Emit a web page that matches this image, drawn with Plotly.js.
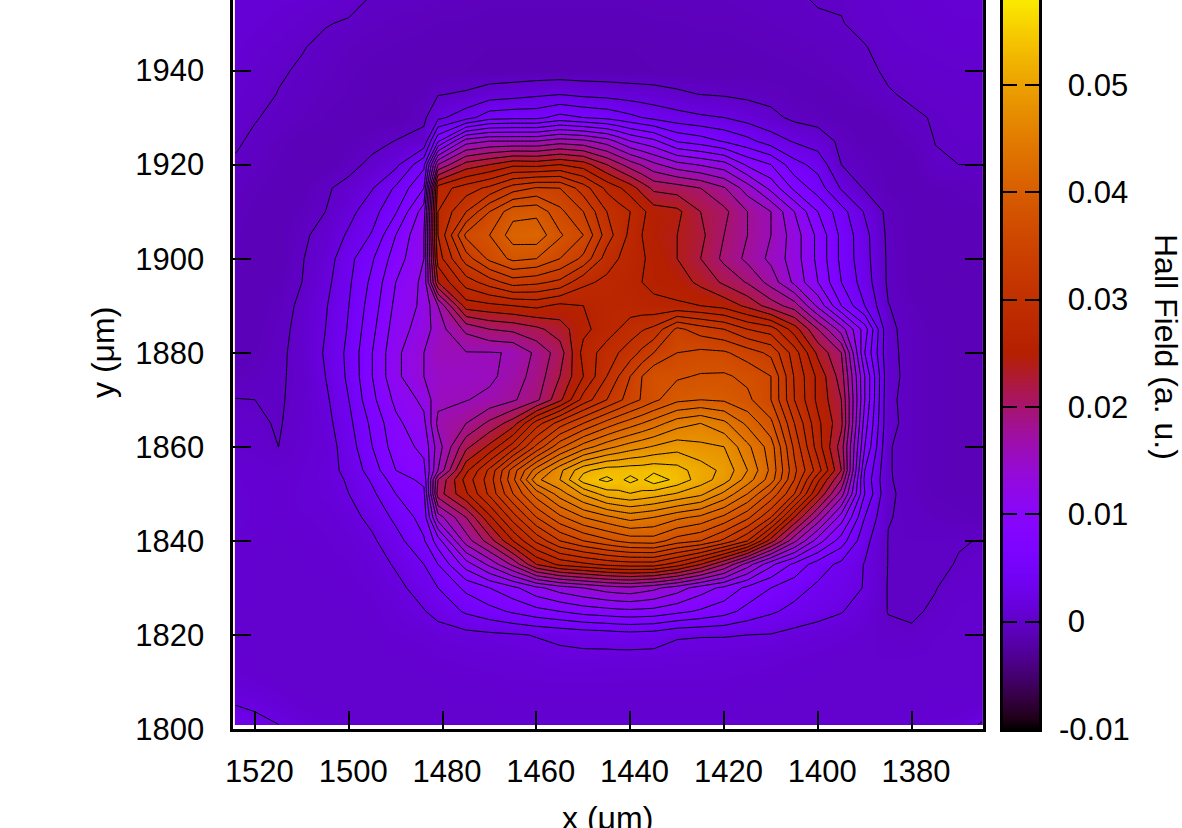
<!DOCTYPE html>
<html>
<head>
<meta charset="utf-8">
<script src="https://cdn.plot.ly/plotly-3.0.1.min.js"></script>
<style>html,body{margin:0;padding:0;background:#fff;overflow:hidden}#chart{width:1182px;height:828px}</style>
</head>
<body>
<div id="chart"></div>
<script>
// measurement positions (µm)
var xValues = [1524,1520,1515,1510,1505,1500,1495,1490,1484,1481,1475,1470,1465,1460,1455,1450,1445,1442.5,1440,1437.5,1435,1430,1425,1420,1415,1410,1405,1400,1395,1390,1385,1380,1375,1370,1365];
var yValues = [1801,1805,1810,1815,1820,1825,1830,1835,1840,1845,1850,1853,1855,1860,1865,1870,1875,1880,1885,1890,1895,1900,1905,1910,1915,1920,1925,1930,1935,1940,1945,1950,1955];
// Hall field, in units of 0.001 (a. u.), one list per y position
var z1801 = [3,2.6,2,1.2,.7,.6,.5,.5,.5,.5,.5,.5,.6,.6,.6,.6,.6,.6,.6,.6,.6,.6,.6,.6,.6,.6,.6,.6,.6,.6,.6,.7,.8,.9,2.2];
var z1805 = [2,1.7,1.1,.7,.6,.5,.5,.5,.5,.6,.6,.6,.7,.7,.7,.7,.7,.7,.7,.7,.7,.7,.7,.7,.6,.6,.6,.6,.6,.6,.6,.6,.7,.7,.7];
var z1810 = [1,.8,.6,.5,.5,.5,.5,.5,.6,.6,.7,.7,.8,.8,.8,.8,.8,.8,.8,.8,.8,.8,.8,.8,.7,.7,.6,.6,.5,.5,.5,.5,.6,.6,.6];
var z1815 = [.7,.6,.5,.5,.5,.5,.5,.6,.7,.8,.9,1,1.1,1.2,1.5,1.5,1.4,1.35,1.3,1.3,1.3,1.2,1.2,1.1,1,.9,.8,.7,.6,.5,.5,.5,.6,.6,.6];
var z1820 = [.6,.6,.6,.6,.6,.6,.6,.8,.9,1.2,1.4,1.6,1.8,2.1,2.4,2.7,2.9,3.1,3.2,3.1,3,2.2,2.1,2.1,2,1.9,1.4,1.1,.9,.7,.3,.1,.5,.6,.6];
var z1825 = [.6,.6,.6,.6,.6,.6,.7,1.1,1.9,2.6,4.3,5.3,6.3,7.3,8,8.8,9.2,9.4,9.5,9.4,9.3,8.5,7.7,6.8,5.3,4.3,3.4,2.7,2.1,1.1,-.05,-.1,.1,.6,.6];
var z1830 = [.7,.6,.6,.6,.6,.7,.9,1.5,2.8,4,6.5,8,9.5,11.5,13,14,15,15.3,15.5,15,14.5,13,11,9.5,7.5,6,4.8,3.6,2.8,1.9,-.1,-.1,-.03,.3,.5];
var z1835 = [.7,.6,.6,.6,.7,.8,1.2,2.2,4,6,11,14.5,18.5,24,26.5,27.5,28.5,28.8,29,29,29,27,24,20,15,10.5,7.5,5,3.5,1.9,-.05,-.1,-.1,.03,.3];
var z1840 = [.8,.7,.6,.7,.8,1,1.7,3.2,5.8,9,17,21,26,30.5,34,36,37.5,38.2,38.8,38.9,39,37,36,33.5,30,23,16.5,11,7,2.6,-.05,-.1,-.1,-.03,.02];
var z1845 = [.9,.8,.7,.8,.9,1.4,2.5,4.5,6.8,15,20,25.5,31,36,39.5,42,43.5,44.2,44.8,44.4,44,42.5,41.5,39.5,36.5,32,24,17.5,11,4,.05,-.2,-.5,-.7,-.8];
var z1850 = [.9,.8,.7,.9,1.2,2,3.6,6,7.5,21,25.7,30.5,36,41,45,48.3,51,51.5,51.9,51.5,51,49.8,48.5,45.5,42,37.5,32,24,17,6,.2,-.4,-.8,-.9,-1];
var z1853 = [.85,.75,.65,.85,1.25,2.2,4.3,7,8.5,20,26.8,31,37.5,45.5,48,53,54.5,53.5,54.6,53.7,55.2,53.4,51,49,45,41,34,26.5,20,5.5,.1,-.4,-.9,-1,-1];
var z1855 = [.8,.7,.6,.8,1.3,2.5,5,8,9.5,16,25.5,30.5,37,43,47.5,51.5,53,53,53.2,53.2,53.5,52.8,51,49.5,46,41.5,34.5,29,22,6,.1,-.5,-.9,-1,-1];
var z1860 = [.5,.4,0,.7,1,3,6,9,10.5,15,21.5,24.5,29,34.5,39.5,43,45.3,46.2,47,47.6,48.2,49.2,48.5,48,44.5,41,33.5,27,21,8,.1,-.5,-.9,-1,-1];
var z1865 = [.3,.2,-.1,.5,1.3,3.5,6.5,9.5,11.5,16.5,18,20.5,23,29,33,36,38.8,40,41,42,43,45.1,46,44.5,41.5,38.5,32,26.5,22.5,9,.4,-.5,-.9,-1,-1];
var z1870 = [.05,0,-.15,.4,1.6,4,7.5,10.5,12.5,15.5,15.9,16.6,17.7,19.5,23.5,28.8,32,33.5,35,36.2,37.5,39.5,40,39.7,38.5,36,30,25.5,22,10,.3,-.5,-.9,-1,-1];
var z1875 = [-.8,-.5,-.1,.2,2,4.4,8,11.5,14,15,15.3,15.5,17,18.8,22,26,30,32,34,36,37.7,37.7,38.2,38.3,37.5,36,29.8,25.5,21,10,.5,-.5,-.9,-1,-1];
var z1880 = [-1,-.8,-.3,.5,2.2,4.5,8,11.5,14,15.9,15.9,15.9,16.1,18.5,21,26.7,29,30,31,32.5,34,36,36.5,36.3,35,33.5,29,23.5,20,8,.4,-.5,-.9,-1,-1];
var z1885 = [-1,-.9,-.4,.4,2,4.2,7.5,11,13,15,18.5,20,20.5,21.5,23,25.5,27,28,29,29.8,30.5,34.5,33,32,30,29,25,20,15,9,.3,-.5,-.9,-1,-1];
var z1890 = [-1,-1,-.6,.3,1.8,4,7,10.5,12.5,16,25,25.5,26,26.5,25.5,26,27,27,27,26.8,26.5,26.3,26,25.3,23.5,21,19,13.5,8,4,.05,-.7,-1,-1.1,-1];
var z1895 = [-.9,-1.1,-.9,0,1.4,3.7,6.5,10,12.5,24,29,31,33,32.5,31.5,28.5,27.5,27,26.5,26,25.5,25,23.5,21.6,19.8,17.2,13.5,10,6,3,-.3,-.9,-1.1,-1.1,-1];
var z1900 = [-.8,-1.1,-1.1,-.1,1,3.4,5.8,9,12,27,33,36.5,38.5,38,36,33.5,29,28,27,26.2,25.5,24,22,19.5,17.5,15.5,13,9.5,5.5,2.7,-.3,-.9,-1,-1.1,-1];
var z1905 = [-.7,-1,-1.1,-.3,.6,2.3,4.2,8,12,28,36.5,38,41,41.3,38.3,36,31,29.2,27.5,26,24.8,24,22.5,20,18,16,13,9.5,5.5,2.6,-.4,-.9,-1,-1,-.9];
var z1910 = [-.6,-.9,-1.1,-.7,0,1.4,3.2,5.8,11,28,32,36,39.3,39.5,36.5,34,30,29,28,26.5,25,24.5,22,20.5,18,16,12,8,4.8,1.8,-.5,-.9,-1,-.9,-.8];
var z1915 = [-.4,-.7,-1,-1,-.2,.5,1.9,4.3,8,27,29,30.5,33,34.2,34,31,27.5,26.3,25,23.2,21.5,21,20,18.2,15,11.4,7.5,5,1.8,-.2,-.8,-1,-.9,-.7,-.6];
var z1920 = [-.1,-.4,-.8,-1.1,-1.1,-.5,.4,1.5,5.5,18,22.8,24,25.5,25.3,26,25,22,20.5,19,17.8,16.5,14.7,13.8,12.8,9.6,8,4.7,3.3,0,-.5,-.9,-1,-.1,0,0];
var z1925 = [.1,-.15,-.6,-1,-1.1,-.9,-.5,.05,.5,7.7,15,16,16,16,17,16.5,15,13.5,12,11.2,10.5,7.8,7,5.8,4.6,3,1.8,1,-.4,-.9,-1,-.6,.02,.1,.1];
var z1930 = [.4,.05,-.2,-.5,-.8,-1,-1.1,-1.2,-.3,1.5,3.2,5.2,5.5,5.5,6.7,6,5.5,5,4.5,4,3.5,2.8,2.3,2,1.2,.5,-.4,-.7,-.9,-1,-.7,-.1,.05,.2,.2];
var z1935 = [.6,.3,-.03,-.3,-.6,-.8,-1,-1.1,-.8,-.1,.2,.9,1.2,1.6,1.9,1.5,1.3,1.15,1,.85,.7,.3,-.05,-.2,-.4,-.6,-.8,-.9,-.8,-.5,-.05,.1,.2,.3,.3];
var z1940 = [.8,.5,.1,-.1,-.4,-.7,-.9,-1,-1.1,-1.1,-1.1,-1.2,-1.2,-1.2,-1.2,-1.2,-1.2,-1.2,-1.2,-1.15,-1.1,-1.1,-1.1,-1.1,-1,-.9,-.8,-.7,-.5,-.15,.1,.3,.4,.5,.5];
var z1945 = [.9,.7,.4,.05,-.2,-.5,-.7,-.8,-.9,-1,-1,-1.1,-1.1,-1.1,-1.1,-1.1,-1.1,-1.1,-1.1,-1.05,-1,-1,-.9,-.9,-.8,-.7,-.6,-.5,-.3,-.05,.4,.5,.6,.7,.7];
var z1950 = [1,.9,.7,.4,.05,-.1,-.4,-.6,-.7,-.8,-.8,-.9,-.9,-.9,-.9,-.9,-.9,-.9,-.9,-.85,-.8,-.8,-.7,-.7,-.6,-.5,-.4,-.2,-.05,.3,.5,.6,.7,.8,.8];
var z1955 = [1,1,.9,.8,.6,.3,-.1,-.3,-.4,-.5,-.6,-.7,-.7,-.7,-.7,-.7,-.7,-.7,-.7,-.65,-.6,-.6,-.5,-.5,-.4,-.3,-.2,.1,.1,.4,.6,.7,.8,.9,.9];
var fieldRows = [z1801,z1805,z1810,z1815,z1820,z1825,z1830,z1835,z1840,z1845,z1850,z1853,z1855,z1860,z1865,z1870,z1875,z1880,z1885,z1890,z1895,z1900,z1905,z1910,z1915,z1920,z1925,z1930,z1935,z1940,z1945,z1950,z1955];

var xTicks = [1520,1500,1480,1460,1440,1420,1400,1380];
var xLabels = ['\u00a01520','\u00a01500','\u00a01480','\u00a01460','\u00a01440','\u00a01420','\u00a01400','\u00a01380'];
var yTicks = [1800,1820,1840,1860,1880,1900,1920,1940];
var barTicks = [-0.01,0,0.01,0.02,0.03,0.04,0.05];
var barLabels = ['','0','0.01','0.02','0.03','0.04','0.05'];
var barEnds = [-0.01,0.0585];
var contourLevels = {start:0,end:54,size:2};

// gnuplot default pm3d palette (rgbformulae 7,5,15) over -0.01 .. 0.06
var colorscale = [];
for (var i=0;i<=70;i++){
  var t=i/70, r=Math.sqrt(t), g=t*t*t, b=Math.max(0,Math.sin(2*Math.PI*t));
  if (t>=0.5) b=0;
  colorscale.push([t,'rgb('+Math.round(255*r)+','+Math.round(255*g)+','+Math.round(255*b)+')']);
}

// narrow leading row/column so that the map stops just inside the frame, as in the original
var xGrid=[1524.2].concat(xValues);
var yGrid=[1800.9].concat(yValues);
var zGrid=[fieldRows[0]].concat(fieldRows).map(function(row){
  var full=[row[0]].concat(row);
  return full.map(function(v){return v*0.001;});
});

var font='"Liberation Sans", Arial, sans-serif';
var W=1182,H=828;
var traces=[
 {type:'heatmap',x:xGrid,y:yGrid,z:zGrid,zsmooth:'best',zmin:-0.01,zmax:0.06,colorscale:colorscale,showscale:false,hoverinfo:'skip'},
 {type:'contour',x:xGrid,y:yGrid,z:zGrid,autocontour:false,
  contours:{start:contourLevels.start*0.001,end:contourLevels.end*0.001,size:contourLevels.size*0.001,coloring:'none'},
  line:{color:'#000',width:1,smoothing:0},showscale:false,hoverinfo:'skip'},
 {type:'heatmap',xaxis:'x2',yaxis:'y2',x:[0,1],y:barEnds,z:[[barEnds[0],barEnds[0]],[barEnds[1],barEnds[1]]],zsmooth:'best',zmin:-0.01,zmax:0.06,colorscale:colorscale,showscale:false,hoverinfo:'skip'}
];
var layout={
 width:W,height:H,margin:{l:0,r:0,t:0,b:0},paper_bgcolor:'#fff',plot_bgcolor:'#fff',showlegend:false,
 font:{family:font,size:31,color:'#000'},
 xaxis:{domain:[233/W,983/W],range:[1524.7,1364.8],tickmode:'array',tickvals:xTicks,ticktext:xLabels,ticks:'inside',ticklen:18,tickwidth:2,tickcolor:'#000',
   showline:true,linecolor:'#000',linewidth:2.6,mirror:false,showgrid:false,zeroline:false,anchor:'y',ticklabelstandoff:13,
   tickfont:{family:font,size:31}},
 yaxis:{domain:[(H-729)/H,1],range:[1800,1955],tickmode:'array',tickvals:yTicks,ticks:'inside',ticklen:18,tickwidth:2,tickcolor:'#000',
   showline:true,linecolor:'#000',linewidth:2.6,mirror:'ticks',showgrid:false,zeroline:false,anchor:'x',ticklabelstandoff:20,
   tickfont:{family:font,size:31}},
 xaxis2:{domain:[1003/W,1039/W],range:[0,1],showticklabels:false,ticks:'',showline:true,linecolor:'#000',linewidth:2.6,mirror:false,showgrid:false,zeroline:false,anchor:'y2'},
 yaxis2:{domain:[(H-729)/H,1],range:[-0.01,0.0579],side:'right',tickmode:'array',tickvals:barTicks,ticktext:barLabels,ticks:'inside',ticklen:14,tickwidth:2,tickcolor:'#000',
   showline:true,linecolor:'#000',linewidth:2.6,mirror:'ticks',showgrid:false,zeroline:false,anchor:'x2',ticklabelstandoff:20,
   tickfont:{family:font,size:31}},
 annotations:[
  {xref:'paper',yref:'y2',x:1057/W,y:-0.01,xanchor:'left',yanchor:'middle',text:'-0.01',showarrow:false,font:{family:font,size:31,color:'#000'}},
  {xref:'paper',yref:'paper',x:1166/W,y:(H-347)/H,xanchor:'center',yanchor:'middle',text:'Hall Field (a. u.)',textangle:90,showarrow:false,font:{family:font,size:32,color:'#000'}},
  {xref:'paper',yref:'paper',x:607/W,y:(H-818)/H,xanchor:'center',yanchor:'middle',text:'x (μm)',showarrow:false,font:{family:font,size:32,color:'#000'}},
  {xref:'paper',yref:'paper',x:103/W,y:(H-353)/H,xanchor:'center',yanchor:'middle',text:'y (μm)',textangle:-90,showarrow:false,font:{family:font,size:32,color:'#000'}}
 ]
};
Plotly.newPlot('chart',traces,layout,{displayModeBar:false,staticPlot:true});
</script>
</body>
</html>
